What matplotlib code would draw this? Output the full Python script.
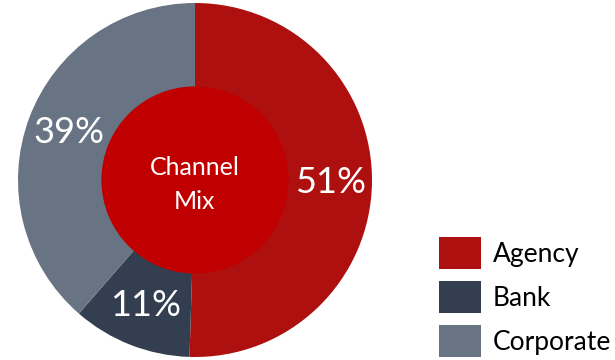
import matplotlib
matplotlib.use("Agg")
import matplotlib.pyplot as plt
from matplotlib.patches import Circle, Patch

categories = ["Agency", "Bank", "Corporate"]
values = [51, 11, 39]
colors = ["#AE1010", "#333F50", "#687383"]
center_color = "#C00000"
center_text = "Channel\nMix"

plt.rcParams['font.family'] = ['Lato', 'DejaVu Sans']

W, H = 615, 360
fig = plt.figure(figsize=(W / 100, H / 100), dpi=100)
cx, cy, R = 195, 180, 177
ax = fig.add_axes([(cx - R) / W, (H - cy - R) / H, 2 * R / W, 2 * R / H])

labels = [f"{v}%" for v in values]
wedges, texts = ax.pie(values, colors=colors, startangle=90, counterclock=False,
                       radius=1, labels=labels, labeldistance=0.763,
                       textprops=dict(color="white", fontsize=26, ha="center", va="center"),
                       wedgeprops=dict(linewidth=0))
for t in texts:
    t.set_ha("center")
    t.set_va("center")
ax.add_patch(Circle((0, 0), 0.525, color=center_color, zorder=3))
ax.text(0, -0.025, center_text, ha="center", va="center", color="white", fontsize=18,
        linespacing=1.55, zorder=4)
ax.set_xlim(-1, 1)
ax.set_ylim(-1, 1)
ax.set_aspect("equal")
ax.axis("off")

handles = [Patch(facecolor=c, edgecolor="none") for c in colors]
fs = 19
fs_px = fs * 100 / 72
hh = (32 / fs_px - 0.245) / 0.65
fig.legend(handles, categories, loc="lower left", bbox_to_anchor=(439 / W, (H - 357) / H),
           frameon=False, fontsize=fs, handlelength=42 / fs_px,
           handleheight=hh, handletextpad=0.45, labelspacing=0.45,
           borderpad=0, borderaxespad=0)

fig.savefig("out.png", dpi=100)
